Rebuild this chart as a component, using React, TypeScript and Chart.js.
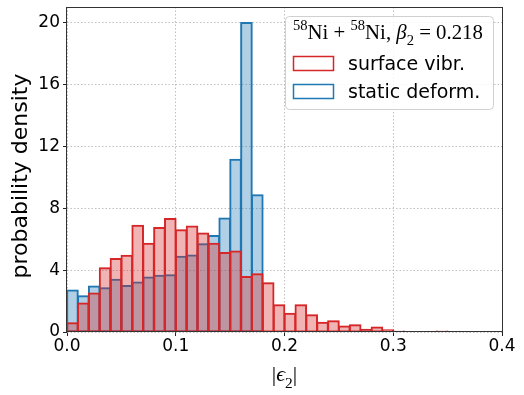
import React, { useEffect, useRef } from "react";
import { Chart, registerables } from "chart.js";
Chart.register(...registerables);

const binWidth = 0.01;
const surfaceVibr = [0.58, 1.85, 2.5, 4.13, 4.73, 4.93, 6.88, 5.72, 6.73, 7.31, 6.58, 6.82, 6.37, 5.72, 5.12, 5.21, 3.57, 3.74, 3.16, 1.74, 1.19, 1.74, 1.1, 0.6, 0.71, 0.37, 0.45, 0.15, 0.3, 0.13, 0.05, 0, 0, 0, 0.05];
const staticDeform = [2.69, 2.32, 2.95, 2.84, 3.38, 2.99, 3.21, 3.53, 3.64, 3.68, 4.88, 4.95, 5.68, 6.22, 7.34, 11.14, 19.98, 8.84];
const xTicks = [0, 0.1, 0.2, 0.3, 0.4];
const yTicks = [0, 4, 8, 12, 16, 20];
const seriesLabels = ["surface vibr.", "static deform."];
const yTitle = "probability density";

const RED = "#d62728";
const BLUE = "#1f77b4";

function toPoints(vals: number[]) {
  return vals
    .map((v, i) => ({ x: (i + 0.5) * binWidth, y: v }))
    .filter((p) => p.y > 0);
}

type Piece = { t: string; italic?: boolean; sup?: boolean; sub?: boolean };

function fontFor(p: Piece, size: number, family: string) {
  const s = p.sup || p.sub ? size * 0.7 : size;
  return `${p.italic ? "italic " : ""}${s}px ${family}`;
}

function measureMath(ctx: CanvasRenderingContext2D, pieces: Piece[], size: number, family: string) {
  let total = 0;
  pieces.forEach((p) => {
    ctx.font = fontFor(p, size, family);
    total += ctx.measureText(p.t).width;
  });
  return total;
}

function drawMath(ctx: CanvasRenderingContext2D, pieces: Piece[], x: number, y: number, size: number, family: string, align: "left" | "center") {
  const total = measureMath(ctx, pieces, size, family);
  let cx = align === "center" ? x - total / 2 : x;
  ctx.textAlign = "left";
  ctx.textBaseline = "alphabetic";
  pieces.forEach((p) => {
    ctx.font = fontFor(p, size, family);
    const dy = p.sup ? -size * 0.42 : p.sub ? size * 0.3 : 0;
    ctx.fillText(p.t, cx, y + dy);
    cx += ctx.measureText(p.t).width;
  });
  return total;
}

const decorPlugin = {
  id: "decor",
  afterDatasetsDraw(chart: any) {
    const ctx = chart.ctx as CanvasRenderingContext2D;
    const ca = chart.chartArea;
    ctx.save();
    ctx.strokeStyle = "#333";
    ctx.lineWidth = 1;
    ctx.strokeRect(Math.round(ca.left) - 0.5, Math.round(ca.top) + 0.5, Math.round(ca.right - ca.left) + 1, Math.round(ca.bottom - ca.top) - 1);
    ctx.restore();
  },
  afterDraw(chart: any) {
    const ctx = chart.ctx as CanvasRenderingContext2D;
    const ca = chart.chartArea;
    ctx.save();
    // legend box
    const bw = 208, bh = 93;
    const bx = ca.right - 9 - bw;
    const by = ca.top + 9;
    ctx.beginPath();
    (ctx as any).roundRect(bx + 0.5, by + 0.5, bw, bh, 4);
    ctx.fillStyle = "rgba(255,255,255,0.85)";
    ctx.fill();
    ctx.strokeStyle = "#d0d0d0";
    ctx.lineWidth = 1;
    ctx.stroke();
    ctx.fillStyle = "#000";
    const fam = "'Liberation Serif'";
    const titlePieces: Piece[] = [
      { t: "58", sup: true }, { t: "Ni" }, { t: " + " }, { t: "58", sup: true }, { t: "Ni" }, { t: ", " },
      { t: "β", italic: true }, { t: "2", sub: true }, { t: " = " }, { t: "0.218" },
    ];
    let size = 19;
    const w0 = measureMath(ctx, titlePieces, size, fam);
    size = (size * 190) / w0;
    drawMath(ctx, titlePieces, bx + 8, by + 23, size, fam, "left");
    const items = [RED, BLUE];
    items.forEach((c, i) => {
      const py = by + 40 + i * 28;
      ctx.strokeStyle = c;
      ctx.lineWidth = 1.5;
      ctx.strokeRect(bx + 8.5, py + 0.5, 40, 14);
      ctx.fillStyle = "#000";
      ctx.font = "19px 'DejaVu Sans'";
      ctx.textAlign = "left";
      ctx.textBaseline = "alphabetic";
      ctx.fillText(seriesLabels[i], bx + 63, py + 14);
    });
    // y title
    ctx.save();
    ctx.translate(27, 176);
    ctx.rotate(-Math.PI / 2);
    ctx.font = "22px 'DejaVu Sans'";
    ctx.textAlign = "center";
    ctx.textBaseline = "alphabetic";
    ctx.fillStyle = "#000";
    ctx.fillText(yTitle, 0, 0);
    ctx.restore();
    // x title |ϵ2|
    ctx.fillStyle = "#000";
    drawMath(ctx, [{ t: "|" }, { t: "ϵ", italic: true }, { t: "2", sub: true }, { t: "|" }], (ca.left + ca.right) / 2, 381, 22, fam, "center");
    ctx.restore();
  },
};

export default function App() {
  const ref = useRef<HTMLCanvasElement | null>(null);
  useEffect(() => {
    document.body.style.margin = "0";
    const canvas = ref.current!;
    const gridCommon = {
      color: "#b0b0b0",
      lineWidth: 0.8,
      borderDash: [1.5, 2],
      drawTicks: true,
      tickLength: 4,
      tickColor: "#222",
      tickWidth: 1,
      tickBorderDash: [],
      offset: false,
    };
    const barCommon = {
      borderWidth: 0.3,
      inflateAmount: 0.85,
      borderSkipped: false,
      barPercentage: 1,
      categoryPercentage: 1,
      grouped: false,
    };
    const chart = new Chart(canvas, {
      type: "bar",
      data: {
        datasets: [
          {
            label: seriesLabels[0],
            data: toPoints(surfaceVibr),
            backgroundColor: "rgba(214,39,40,0.35)",
            borderColor: RED,
            ...barCommon,
          } as any,
          {
            label: seriesLabels[1],
            data: toPoints(staticDeform),
            backgroundColor: "rgba(31,119,180,0.35)",
            borderColor: BLUE,
            ...barCommon,
          } as any,
        ],
      },
      options: {
        responsive: false,
        animation: false,
        events: [],
        layout: { padding: { left: 0, right: 22, top: 7, bottom: 0 } },
        plugins: { legend: { display: false }, tooltip: { enabled: false } },
        scales: {
          x: {
            type: "linear",
            min: 0,
            max: 0.4,
            offset: false,
            afterBuildTicks: (s: any) => { s.ticks = xTicks.map((v) => ({ value: v })); },
            afterFit: (s: any) => { s.height = 63; s.paddingLeft = 0; s.paddingRight = 0; },
            grid: gridCommon as any,
            border: { display: false, dash: [1.5, 2] },
            ticks: {
              color: "#000",
              font: { family: "'DejaVu Sans'", size: 17 },
              padding: 0,
              maxRotation: 0,
              autoSkip: false,
              callback: (v: any) => Number(v).toFixed(1),
            },
          },
          y: {
            type: "linear",
            min: 0,
            max: 21,
            afterBuildTicks: (s: any) => { s.ticks = yTicks.map((v) => ({ value: v })); },
            afterFit: (s: any) => { s.width = 67; s.paddingTop = 0; s.paddingBottom = 0; },
            grid: gridCommon as any,
            border: { display: false, dash: [1.5, 2] },
            ticks: {
              color: "#000",
              font: { family: "'DejaVu Sans'", size: 17 },
              padding: 3,
              autoSkip: false,
              callback: (v: any) => String(v),
            },
          },
        },
      } as any,
      plugins: [decorPlugin],
    });
    return () => chart.destroy();
  }, []);
  return (
    <div style={{ width: 524, height: 395 }}>
      <canvas ref={ref} width={524} height={395} style={{ display: "block" }} />
    </div>
  );
}
